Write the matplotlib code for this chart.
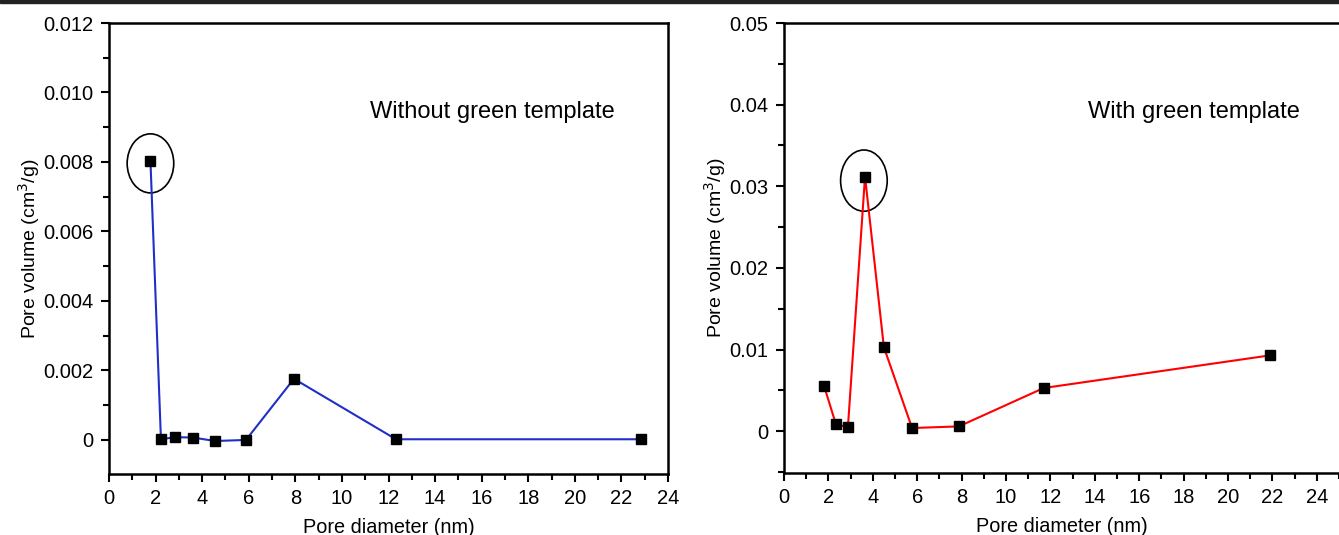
import matplotlib
matplotlib.use("Agg")
from matplotlib import pyplot as plt
from matplotlib.patches import Ellipse, Rectangle
from matplotlib.ticker import MultipleLocator, FuncFormatter

plt.rcParams["font.family"] = ["Liberation Sans", "DejaVu Sans"]

# data
d_without = [1.78, 2.23, 2.83, 3.6, 4.55, 5.88, 7.94, 12.32, 22.84]
v_without = [0.00803, 0.00002, 0.00008, 0.00007, -0.00003, 0.0, 0.00176, 0.00002, 0.00002]
d_with = [1.8, 2.34, 2.88, 3.65, 4.5, 5.77, 7.88, 11.7, 21.9]
v_with = [0.0056, 0.00085, 0.0005, 0.0312, 0.0103, 0.0004, 0.0006, 0.0053, 0.0093]

label_without = "Without green template"
label_with = "With green template"
xlabel = "Pore diameter (nm)"
ylabel = "Pore volume (cm$^3$/g)"


def style_axes(ax, xmax, ymin, ymax, ymajor, yminor, yfmt):
    ax.set_xlim(0, xmax)
    ax.set_ylim(ymin, ymax)
    ax.xaxis.set_major_locator(MultipleLocator(2))
    ax.xaxis.set_minor_locator(MultipleLocator(1))
    ax.yaxis.set_major_locator(MultipleLocator(ymajor))
    ax.yaxis.set_minor_locator(MultipleLocator(yminor))
    ax.yaxis.set_major_formatter(FuncFormatter(yfmt))
    ax.tick_params(which="both", direction="out", width=1.5, labelsize=14.5,
                   top=False, right=False)
    ax.tick_params(which="major", length=6, pad=5)
    ax.tick_params(which="minor", length=4)
    for s in ax.spines.values():
        s.set_linewidth(1.8)
    ax.set_xlabel(xlabel, fontsize=14.3, labelpad=7)
    ax.set_ylabel(ylabel, fontsize=14, labelpad=1)


fig = plt.figure(figsize=(13.39, 5.35), dpi=100)
fig.patches.append(Rectangle((0, 0.995), 1, 0.005, transform=fig.transFigure,
                             color="#222222", zorder=10))

ax1 = fig.add_axes([0.0814, 0.114, 0.4175, 0.843])
ax1.plot(d_without, v_without, color="#1f2fc8", lw=1.5, marker="s", ms=7.5,
         mfc="black", mec="black")
style_axes(ax1, 24, -0.00098, 0.012, 0.002, 0.001,
           lambda v, p: "0" if abs(v) < 1e-9 else "%.3f" % v)
ax1.text(0.467, 0.803, label_without, transform=ax1.transAxes, fontsize=17,
         va="center")
ax1.add_patch(Ellipse((1.78, 0.00796), 2.0, 0.0017, fill=False, lw=1.2,
                      color="black"))

ax2 = fig.add_axes([0.5855, 0.116, 0.4145, 0.841])
ax2.plot(d_with, v_with, color="#ff0000", lw=1.5, marker="s", ms=7.5,
         mfc="black", mec="black")
style_axes(ax2, 25.0, -0.0051, 0.05, 0.01, 0.005,
           lambda v, p: "0" if abs(v) < 1e-9 else "%.2f" % v)
ax2.spines["right"].set_visible(False)
ax2.text(0.548, 0.803, label_with, transform=ax2.transAxes, fontsize=17,
         va="center")
ax2.add_patch(Ellipse((3.6, 0.0307), 2.1, 0.0075, fill=False, lw=1.2,
                      color="black"))

fig.savefig("out.png", dpi=100)
